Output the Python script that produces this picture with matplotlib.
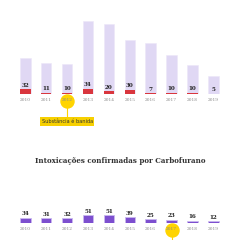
import matplotlib.pyplot as plt

years = ['2010', '2011', '2012', '2013', '2014', '2015', '2016', '2017', '2018', '2019']
total_cases = [232, 200, 195, 470, 452, 350, 330, 256, 190, 120]
banned_cases = [32, 11, 10, 34, 20, 30, 7, 10, 10, 5]
carbofurano = [34, 31, 32, 51, 51, 39, 25, 23, 16, 12]

W = H = 240
px_per_unit = 0.155
x0, dx = 25.3, 20.9

light = '#e0d8f4'
red = '#d9363e'
purple = '#7d4fcf'
yellow = '#ffd400'
dark = '#222222'
grey = '#8a8a8a'

fig = plt.figure(figsize=(2.4, 2.4), dpi=100)
fig.patch.set_facecolor('white')

def make_axes(base_px, height_px):
    ax = fig.add_axes([0, 1 - base_px / H, 1, height_px / H])
    ax.set_xlim(-x0 / dx, (W - x0) / dx)
    ax.set_ylim(0, height_px / px_per_unit)
    for s in ax.spines.values():
        s.set_visible(False)
    ax.set_yticks([])
    ax.set_xticks(range(len(years)))
    ax.set_xticklabels(years, family='DejaVu Serif', fontsize=3.2, color=grey)
    ax.tick_params(axis='x', length=0, pad=2.4)
    ax.patch.set_alpha(0)
    return ax

def highlight(ax, i, down_to):
    y = -6.6 / px_per_unit
    ax.scatter([i], [y], s=88, color=yellow, zorder=1, clip_on=False)
    ax.plot([i, i], [y - 6 / px_per_unit, down_to], color=yellow, lw=0.8,
            clip_on=False, zorder=1)

# top chart
ax1 = make_axes(94.3, 94.3)
xs = range(len(years))
ax1.bar(xs, total_cases, width=0.5, color=light, edgecolor='#ece6f8', lw=0.4)
ax1.bar(xs, banned_cases, width=0.5, color=red)
for i, v in enumerate(banned_cases):
    ax1.annotate(str(v), (i, v), xytext=(0, 1.2), textcoords='offset points',
                 ha='center', va='bottom', fontsize=4.1, fontweight='bold',
                 family='DejaVu Serif', color=dark)
highlight(ax1, 2, -23.5 / px_per_unit)
ax1.text(2, -27.2 / px_per_unit, 'Substância é banida', ha='center', va='center',
         fontsize=3.6, color='#333333', family='DejaVu Sans',
         bbox=dict(boxstyle='square,pad=0.35', fc='#f7d000', ec='none'))

# bottom chart
ax2 = make_axes(223.3, 30)
ax2.bar(xs, carbofurano, width=0.5, color=purple, edgecolor='#c9b9ef', lw=0.6)
for i, v in enumerate(carbofurano):
    ax2.annotate(str(v), (i, v), xytext=(0, 1.2), textcoords='offset points',
                 ha='center', va='bottom', fontsize=4.1, fontweight='bold',
                 family='DejaVu Serif', color=dark)
highlight(ax2, 7, -17 / px_per_unit)

fig.text(0.5, 1 - 161 / H, 'Intoxicações confirmadas por Carbofurano',
         ha='center', va='center', fontsize=5.1, fontweight='bold',
         family='DejaVu Serif', color='#333333')

fig.savefig('out.png', dpi=100)
